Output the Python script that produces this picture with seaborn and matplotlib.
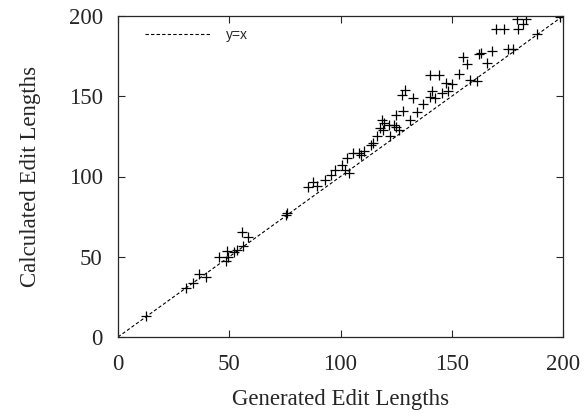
import matplotlib
matplotlib.use("Agg")
import matplotlib.pyplot as plt
import seaborn as sns
import pandas as pd

generated = [12.4, 30.6, 33.6, 36.6, 39.6, 45.5, 48.4, 49.6, 49.1, 52.3, 53.3, 56.3, 55.6, 58.3,
             75.8, 75.4, 85.5, 87.5, 89.6, 93.0, 95.6, 97.5, 100.5, 102.0, 104.0, 102.8, 105.8,
             108.5, 109.2, 110.7, 113.6, 114.7, 116.3, 117.8, 118.5, 119.7, 119.2, 121.9, 122.2,
             124.0, 124.8, 126.4, 125.0, 128.2, 131.2, 134.5, 137.2, 127.5, 129.0, 132.4, 140.2,
             142.5, 141.0, 145.4, 148.4, 150.0, 147.4, 140.0, 144.4, 153.3, 158.0, 161.2, 157.0,
             166.0, 155.0, 162.4, 163.1, 167.9, 175.1, 177.4, 169.7, 173.6, 179.2, 183.4, 179.9,
             181.9, 188.4, 198.7]
calculated = [13.3, 30.3, 33.8, 39.5, 37.4, 49.6, 47.5, 49.6, 53.8, 53.2, 54.2, 56.9, 65.2, 62.5,
              77.5, 76.0, 93.5, 96.5, 94.1, 97.6, 100.9, 104.0, 107.2, 104.0, 101.9, 111.3, 114.4,
              114.4, 113.4, 116.1, 119.6, 121.0, 125.2, 130.0, 135.2, 133.1, 129.0, 132.1, 125.2,
              132.1, 131.0, 129.0, 138.3, 141.0, 135.2, 140.4, 145.2, 150.8, 153.9, 148.7, 149.3,
              148.7, 153.5, 151.8, 153.5, 157.6, 158.5, 163.0, 163.0, 163.9, 160.4, 159.8, 170.0,
              171.0, 174.6, 176.1, 177.1, 178.2, 179.2, 179.2, 191.9, 191.9, 198.1, 198.1, 191.9,
              194.8, 188.6, 199.6]
line_x = [0, 200]
line_y = [0, 200]
ticks = [0, 50, 100, 150, 200]

sns.set_style("ticks")
plt.rcParams["font.family"] = ["Liberation Serif", "DejaVu Serif"]

fig = plt.figure(figsize=(5.84, 4.16), dpi=100)
ax = fig.add_axes([118/584, 79/416, 445/584, 321/416])

df = pd.DataFrame({"g": generated, "c": calculated})
sns.lineplot(x=line_x, y=line_y, ax=ax, color="black", lw=0.8, linestyle=(0, (3, 2)),
             label="y=x")
sns.scatterplot(data=df, x="g", y="c", ax=ax, marker="+", color="black", s=60,
                linewidth=0.9, legend=False)

ax.set_xlim(0, 200)
ax.set_ylim(0, 200)
ax.set_xticks(ticks)
ax.set_yticks(ticks)
ax.tick_params(direction="in", top=True, right=True, length=5, width=0.8, labelsize=16.5)
ax.tick_params(axis="x", pad=12)
ax.tick_params(axis="y", pad=11)
for s in ax.spines.values():
    s.set_linewidth(0.9)
ax.set_xlabel("Generated Edit Lengths", fontsize=16.5, labelpad=10)
ax.set_ylabel("Calculated Edit Lengths", fontsize=16.5, labelpad=20)

leg = ax.legend(loc="upper left", bbox_to_anchor=(0.061, 0.963), borderaxespad=0,
                borderpad=0, frameon=False, handlelength=4.7, handletextpad=1.15,
                prop={"family": "Liberation Sans", "size": 10})

fig.savefig("out.png", dpi=100)
